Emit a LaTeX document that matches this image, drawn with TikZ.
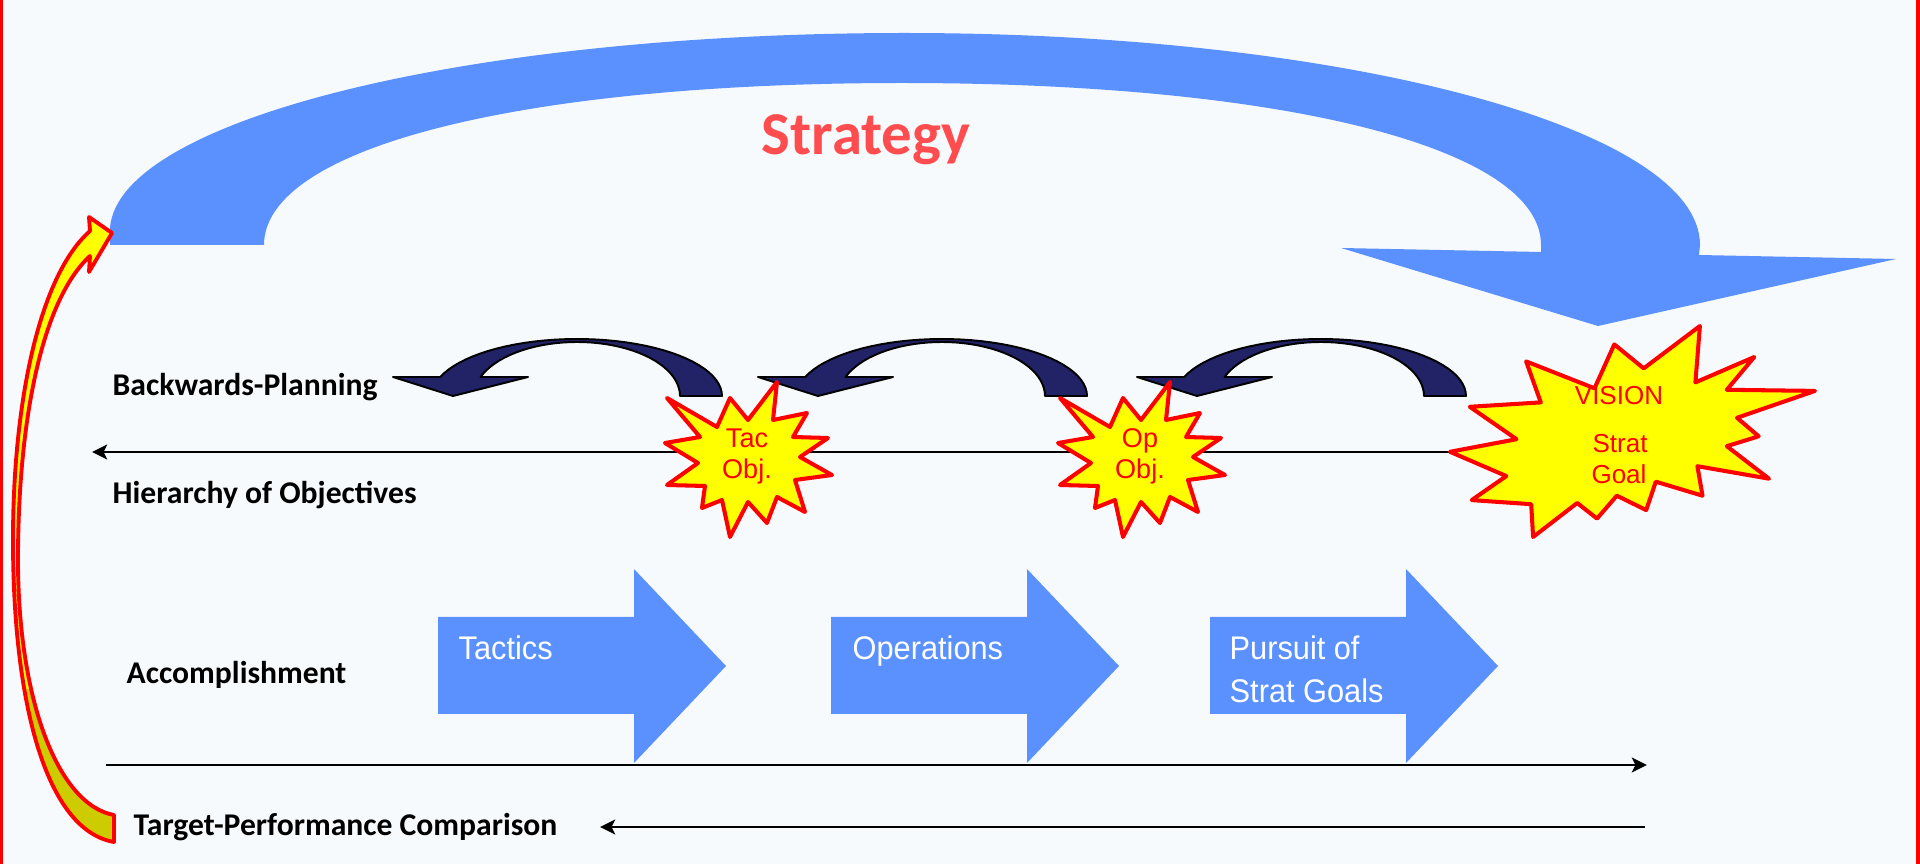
\documentclass[tikz,border=0pt]{standalone}
\usepackage{fontspec}
\setmainfont{Carlito}
\newfontfamily\arrowfont[FakeStretch=0.94]{Liberation Sans}
\newfontfamily\starfont{Liberation Sans}
\usetikzlibrary{arrows.meta}
\definecolor{bgc}{HTML}{F7FAFC}
\definecolor{bigblue}{HTML}{5A91FF}
\definecolor{navyc}{HTML}{222266}
\definecolor{stratred}{HTML}{FF4D4F}
\definecolor{staryel}{HTML}{FFFF00}
\definecolor{olive}{HTML}{CCCC00}
\tikzset{
  lbl/.style={anchor=base west,inner sep=0pt,font=\fontsize{9pt}{10.8pt}\selectfont\bfseries},
  blocktxt/.style={anchor=base west,inner sep=0pt,text=white,font=\arrowfont\fontsize{9.3pt}{11pt}\selectfont},
  startxt/.style={anchor=base,inner sep=0pt,text=red,font=\starfont\fontsize{7.7pt}{9pt}\selectfont},
  starst/.style={fill=staryel,draw=red,line width=1.15pt,line join=round},
  navyarrow/.style={fill=navyc,draw=black,line width=0.55pt,line join=round},
  blockarrow/.style={fill=bigblue},
  axisline/.style={draw=black,line width=0.6pt},
  tip/.style={-{Stealth[length=4.3pt,width=4.2pt,inset=1pt]}}
}
\begin{document}
\begin{tikzpicture}[x=0.01cm,y=-0.01cm]
\useasboundingbox (0,0) rectangle (1920,864);
\fill[bgc] (0,0) rectangle (1920,864);
\fill[red] (0,0) rectangle (3,864);
\fill[red] (1916,0) rectangle (1920,864);

% big strategy arrow
\fill[bigblue] (110,245) -- (110,228) .. controls (118,120) and (466,33) .. (905,33)
  .. controls (1344,33) and (1700,128) .. (1700,245) -- (1699,255) -- (1896,259)
  -- (1598,326) -- (1341,248) -- (1541,252) -- (1541,245)
  .. controls (1541,148) and (1285,83) .. (902,83)
  .. controls (519,83) and (264,148) .. (264,245) -- cycle;
\node[anchor=base,inner sep=0pt,text=stratred,font=\fontsize{17.3pt}{20pt}\selectfont\bfseries] (strategy) at (866,155) {Strategy};

% navy backwards-planning arrows
\foreach \o in {0,365,744}{
\begin{scope}[xshift=\o*0.01cm]
\filldraw[navyarrow] (393,377) -- (440,377)
  -- plot[domain=199.5:360,samples=40] ({577+145*cos(\x)},{396+57*sin(\x)})
  -- (680,396)
  -- plot[domain=360:200.6,samples=40] ({577+103*cos(\x)},{396+54*sin(\x)})
  -- (528,377) -- (453,396) -- cycle;
\end{scope}
}

% hierarchy line
\coordinate (hstart) at (1460,452);
\coordinate (hend) at (92,452);
\draw[axisline,tip] (hstart) -- (hend);

% stars
\foreach \o in {0,393}{
\begin{scope}[xshift=\o*0.01cm]
\filldraw[starst] (667,398) -- (717,427) -- (730,398) -- (748,420) -- (777,382) -- (773,420)
 -- (807,413) -- (793,437) -- (828,438) -- (800,457) -- (832,475) -- (795,480)
 -- (805,512) -- (777,497) -- (767,523) -- (748,502) -- (730,537) -- (722,500)
 -- (702,508) -- (705,486) -- (667,485) -- (698,463) -- (665,443) -- (700,437) -- cycle;
\end{scope}
}
\filldraw[starst] (1643.7,368.4) -- (1699.9,326) -- (1695.4,382.4) -- (1754.3,357) -- (1726.8,389.8)
 -- (1815,390.9) -- (1737,417.8) -- (1758.7,436.3) -- (1726.8,446.2) -- (1769,478.7)
 -- (1697.4,466.2) -- (1702.5,495.7) -- (1655.8,481.7) -- (1646.2,510.1) -- (1616.8,495.7)
 -- (1597,518.6) -- (1577.2,503) -- (1533.1,537) -- (1531.2,504.2) -- (1471.7,500.1)
 -- (1506.3,476.1) -- (1450,451.8) -- (1516.5,439.2) -- (1469.8,406.8) -- (1540.8,402.4)
 -- (1526.1,361.4) -- (1594.5,388.3) -- (1614.3,344.4) -- cycle;
\node[startxt] (tac1) at (747,448) {Tac};
\node[startxt] (tac2) at (747,479) {Obj.};
\node[startxt] (op1) at (1140,448) {Op};
\node[startxt] (op2) at (1140,479) {Obj.};
\node[startxt,font=\starfont\fontsize{7.4pt}{9pt}\selectfont] (vis1) at (1619,405) {VISION};
\node[startxt,font=\starfont\fontsize{7.4pt}{9pt}\selectfont] (vis2) at (1620,453) {Strat};
\node[startxt,font=\starfont\fontsize{7.4pt}{9pt}\selectfont] (vis3) at (1619,484) {Goal};

% block arrows
\foreach \o in {0,393,772}{
\begin{scope}[xshift=\o*0.01cm]
\fill[blockarrow] (438,617) -- (634,617) -- (634,569) -- (726,666) -- (634,763) -- (634,714) -- (438,714) -- cycle;
\end{scope}
}
\node[blocktxt] (tactics) at (458,660) {Tactics};
\node[blocktxt] (ops) at (852,660) {Operations};
\node[blocktxt] (purs1) at (1229,660) {Pursuit of};
\node[blocktxt] (purs2) at (1229,703) {Strat Goals};

% bottom lines
\coordinate (astart) at (106,765);
\coordinate (aend) at (1647,765);
\draw[axisline,tip] (astart) -- (aend);
\coordinate (tstart) at (1645,827);
\coordinate (tend) at (600,827);
\draw[axisline,tip] (tstart) -- (tend);

% labels
\node[lbl] (bp) at (112,396) {Backwards-Planning};
\node[lbl] (hoo) at (112,504) {Hierarchy of Objectives};
\node[lbl] (acc) at (126,684) {Accomplishment};
\node[lbl] (tpc) at (133,836) {Target-Performance Comparison};

% left feedback arrow
\def\fbpath{(114,842) .. controls (45,830) and (13,700) .. (13,540)
  .. controls (13,400) and (40,275) .. (90,231) -- (89,217) -- (112,233) -- (89,272) -- (90,256)
  .. controls (42,300) and (18,420) .. (18,560)
  .. controls (18,700) and (58,805) .. (114,815) -- cycle}
\fill[staryel] \fbpath;
\begin{scope}
\clip (0,690) rectangle (140,864);
\fill[olive] \fbpath;
\end{scope}
\draw[red,line width=1.1pt,line join=round] \fbpath;
\end{tikzpicture}
\end{document}
